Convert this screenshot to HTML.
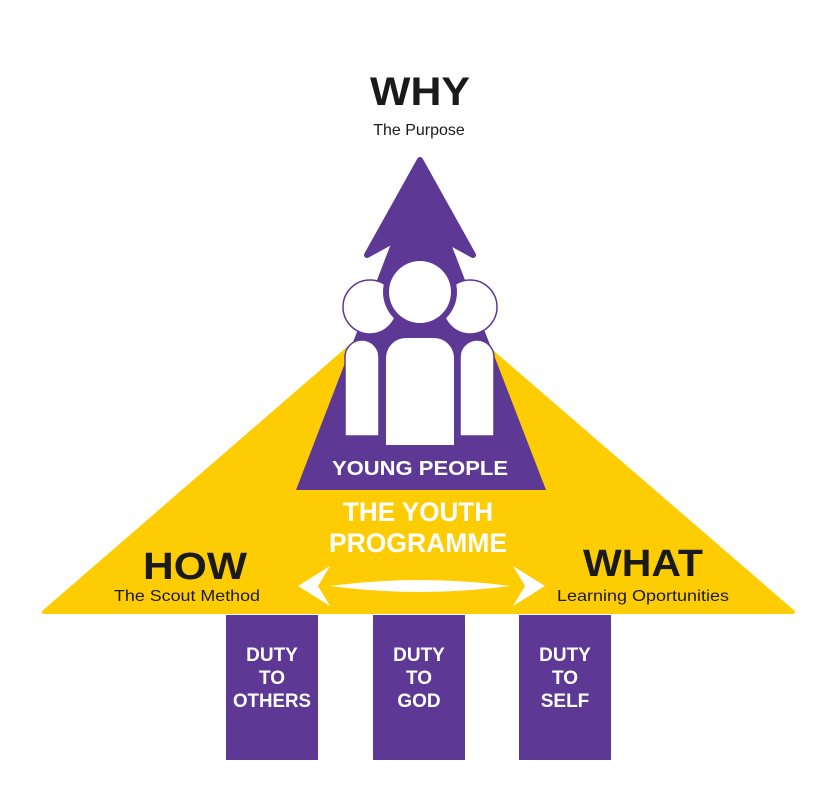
<!DOCTYPE html>
<html><head><style>body{margin:0;background:#fff}svg{display:block}</style></head><body>
<svg width="833" height="800" viewBox="0 0 833 800" xmlns="http://www.w3.org/2000/svg" font-family="Liberation Sans, sans-serif">
<polygon points="44,612 793,612 418,288" fill="#fdcc03" stroke="#fdcc03" stroke-width="4" stroke-linejoin="round"/>
<polygon points="296,490 546,490 421,166" fill="#5d3895"/>
<polygon points="420,160 473,255 442,238 421,230 398,238 367,255" fill="#5d3895" stroke="#5d3895" stroke-width="6" stroke-linejoin="round"/>
<circle cx="370" cy="307" r="27" fill="#fff" stroke="#5d3895" stroke-width="1.5"/>
<circle cx="470" cy="307" r="27" fill="#fff" stroke="#5d3895" stroke-width="1.5"/>
<path d="M345,436 V357 a17,17 0 0 1 34,0 V436 Z" fill="#fff" stroke="#5d3895" stroke-width="1.5"/>
<path d="M460,436 V357 a17,17 0 0 1 34,0 V436 Z" fill="#fff" stroke="#5d3895" stroke-width="1.5"/>
<path d="M380,448 V355 a40,26 0 0 1 0,0 V448 Z" fill="none"/>
<path d="M380,450 V355 a24,24 0 0 1 24,-24 h32 a24,24 0 0 1 24,24 V450 Z" fill="#5d3895"/>
<path d="M386,445 V358 a20,20 0 0 1 20,-20 h28 a20,20 0 0 1 20,20 V445 Z" fill="#fff"/>
<circle cx="420" cy="292" r="37" fill="#5d3895"/>
<circle cx="420" cy="292" r="31" fill="#fff"/>
<g fill="#5d3895"><rect x="226" y="615" width="92" height="145"/><rect x="373" y="615" width="92" height="145"/><rect x="519" y="615" width="92" height="145"/></g>
<g font-weight="bold" text-anchor="middle">
<text x="420" y="105" font-size="40" fill="#1a1a1a" textLength="100" lengthAdjust="spacingAndGlyphs">WHY</text>
<text x="420" y="475" font-size="20" fill="#fff" textLength="176" lengthAdjust="spacingAndGlyphs">YOUNG PEOPLE</text>
<text x="418" y="521" font-size="27" fill="#fff" textLength="150" lengthAdjust="spacingAndGlyphs">THE YOUTH</text>
<text x="418" y="552" font-size="27" fill="#fff" textLength="178" lengthAdjust="spacingAndGlyphs">PROGRAMME</text>
<text x="195" y="579" font-size="38" fill="#1a1a1a" textLength="104" lengthAdjust="spacingAndGlyphs">HOW</text>
<text x="643" y="576" font-size="38" fill="#1a1a1a" textLength="120" lengthAdjust="spacingAndGlyphs">WHAT</text>
<g font-size="19" fill="#fff">
<text x="272" y="661">DUTY</text><text x="272" y="684">TO</text><text x="272" y="707" textLength="78" lengthAdjust="spacingAndGlyphs">OTHERS</text>
<text x="419" y="661">DUTY</text><text x="419" y="684">TO</text><text x="419" y="707">GOD</text>
<text x="565" y="661">DUTY</text><text x="565" y="684">TO</text><text x="565" y="707">SELF</text>
</g></g>
<g text-anchor="middle" font-size="16" fill="#1a1a1a">
<text x="419" y="135">The Purpose</text>
<text x="187" y="601" textLength="146" lengthAdjust="spacingAndGlyphs">The Scout Method</text>
<text x="643" y="601" textLength="172" lengthAdjust="spacingAndGlyphs">Learning Oportunities</text>
</g>
<path d="M330,586 Q420,574 510,586 Q420,598 330,586 Z" fill="#fff"/>
<polygon points="298,586 330,566 318,586 330,606" fill="#fff"/>
<polygon points="545,586 513,566 525,586 513,606" fill="#fff"/>
</svg>
</body></html>
